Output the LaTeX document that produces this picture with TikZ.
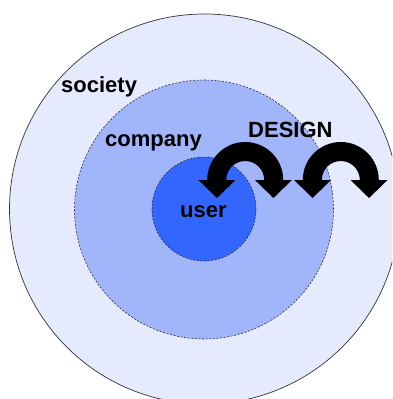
\documentclass[tikz,border=0pt]{standalone}
\usepackage{fontspec}
\setmainfont{Liberation Sans}
\definecolor{outerc}{RGB}{230,234,253}
\definecolor{midc}{RGB}{160,181,250}
\definecolor{innerc}{RGB}{51,102,255}
\begin{document}
\begin{tikzpicture}[x=1pt,y=-1pt,
  ring/.style={circle, inner sep=0pt, outer sep=0pt},
  dashring/.style={ring, draw=black!85, line width=0.55pt, dash pattern=on 2pt off 1.6pt},
  label/.style={inner sep=0pt, anchor=base west, font=\fontsize{22}{24}\selectfont\bfseries},
  uturn/.pic={
    \fill[black] (-46.75,0) -- (-28.25,18) -- (-9.75,0) -- (-19,0)
      arc[start angle=180, end angle=360, radius=19] -- (9.75,0)
      -- (28.25,18) -- (46.75,0) -- (38,0)
      arc[start angle=0, end angle=-180, radius=38] -- cycle;
  }]
\useasboundingbox (0,0) rectangle (392,399);
\clip (0,0) rectangle (392,399);
\node[ring, draw=black!80, line width=0.7pt, fill=outerc, minimum size=390pt] (outer) at (204.5,209) {};
\node[dashring, fill=midc, minimum size=259pt] (middle) at (204,209.5) {};
\node[dashring, fill=innerc, minimum size=104pt] (inner) at (204,209) {};
\node[label] (society) at (61,92) {society};
\node[label] (company) at (105,146) {company};
\node[label] (design) at (248,137) {DESIGN};
\node[label] (user) at (180,217) {user};
\pic at (245.2,180) {uturn};
\pic at (340.8,180) {uturn};
\end{tikzpicture}
\end{document}
